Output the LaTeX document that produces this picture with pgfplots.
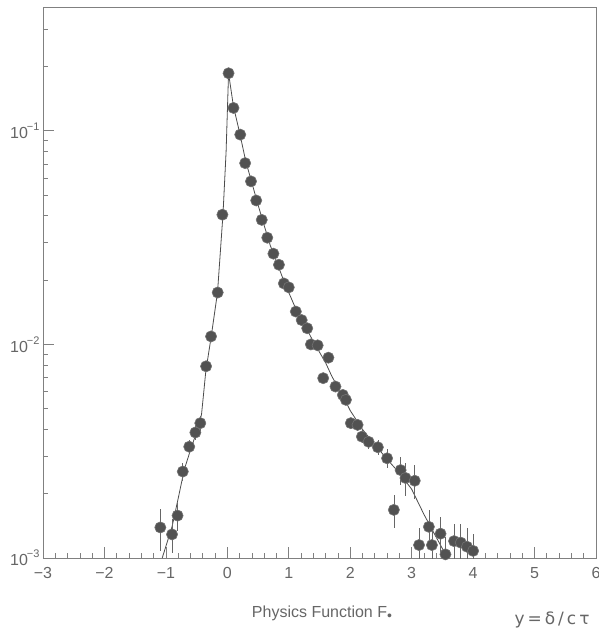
\documentclass[border=0pt]{standalone}
\usepackage{pgfplots}
\pgfplotsset{compat=1.18}
\usepackage{fontspec}
\setmainfont{Liberation Sans}
\newfontfamily\dejavu{DejaVu Sans}
\definecolor{axgray}{gray}{0.5}
\definecolor{txtgray}{gray}{0.4}
\definecolor{ptgray}{gray}{0.32}
\begin{document}
\begin{tikzpicture}
\begin{axis}[
  scale only axis, width=553pt, height=551pt,
  xmin=-3, xmax=6, ymode=log, ymin=1e-3, ymax=0.38,
  axis line style={axgray, line width=0.8pt},
  every tick/.style={axgray, line width=0.7pt},
  tick align=inside, tick pos=left,
  major tick length=11pt, minor tick length=5pt,
  xtick={-3,-2,-1,0,1,2,3,4,5,6},
  xticklabels={−3,−2,−1,0,1,2,3,4,5,6},
  minor x tick num=4,
  ytick={0.001,0.01,0.1},
  yticklabels={10\kern-1pt\raisebox{8pt}{\fontsize{11}{13}\selectfont −3},
               10\kern-1pt\raisebox{8pt}{\fontsize{11}{13}\selectfont −2},
               10\kern-1pt\raisebox{8pt}{\fontsize{11}{13}\selectfont −1}},
  minor ytick={0.002,0.003,0.004,0.005,0.006,0.007,0.008,0.009,
               0.02,0.03,0.04,0.05,0.06,0.07,0.08,0.09,0.2,0.3},
  ticklabel style={font=\fontsize{16}{19}\selectfont, text=txtgray},
  xticklabel style={yshift=-6pt},
]
\coordinate (o) at (rel axis cs:0,0);
% fitted curve
\addplot[black!70, line width=0.8pt, mark=none] coordinates {
(-1.06,0.00100) (-0.9,0.0014) (-0.8,0.0019) (-0.7,0.0026) (-0.6,0.0032)
(-0.5,0.0039) (-0.42,0.0047) (-0.35,0.0075) (-0.26,0.0110) (-0.16,0.0175)
(-0.07,0.041) (-0.02,0.08) (0.02,0.186)
(0.1,0.13) (0.2,0.098) (0.3,0.072) (0.4,0.057) (0.5,0.045) (0.6,0.036)
(0.7,0.029) (0.8,0.0245) (0.9,0.0205) (1.0,0.0175) (1.1,0.0150) (1.2,0.0131)
(1.3,0.0117) (1.4,0.0103) (1.5,0.0092) (1.6,0.0082) (1.7,0.0071) (1.8,0.0063)
(1.9,0.0056) (2.0,0.0049) (2.2,0.0040) (2.4,0.0034) (2.6,0.0029) (2.8,0.0025)
(3.0,0.0021) (3.2,0.0016) (3.4,0.00125) (3.6,0.00098)
};
% data points
\addplot[only marks, mark=*, mark size=5.6pt,
  mark options={fill=ptgray, draw=black!55, line width=0.6pt},
  error bars/.cd, y dir=both, y explicit relative,
  error bar style={black!60, line width=0.7pt}, error mark=none]
coordinates {
(-1.09,0.00139) +- (0,0.22)
(-0.90,0.00129) +- (0,0.18)
(-0.81,0.00158) +- (0,0.15)
(-0.725,0.00254) +- (0,0.10)
(-0.62,0.00332) +- (0,0.08)
(-0.52,0.00387) +- (0,0.08)
(-0.44,0.00428) +- (0,0.08)
(-0.346,0.0079) +- (0,0.05)
(-0.265,0.0109) +- (0,0.05)
(-0.157,0.0175) +- (0,0.04)
(-0.08,0.0405) +- (0,0.03)
(0.02,0.186) +- (0,0.02)
(0.10,0.128) +- (0,0.02)
(0.21,0.096) +- (0,0.02)
(0.29,0.0706) +- (0,0.02)
(0.385,0.058) +- (0,0.02)
(0.47,0.0472) +- (0,0.02)
(0.56,0.0383) +- (0,0.02)
(0.65,0.0316) +- (0,0.03)
(0.75,0.0266) +- (0,0.03)
(0.84,0.0236) +- (0,0.03)
(0.92,0.0193) +- (0,0.03)
(1.00,0.0185) +- (0,0.03)
(1.115,0.01425) +- (0,0.04)
(1.21,0.0130) +- (0,0.04)
(1.30,0.0119) +- (0,0.04)
(1.36,0.0100) +- (0,0.04)
(1.47,0.0099) +- (0,0.04)
(1.56,0.00695) +- (0,0.05)
(1.645,0.00867) +- (0,0.05)
(1.76,0.00635) +- (0,0.05)
(1.88,0.0058) +- (0,0.05)
(1.93,0.0055) +- (0,0.05)
(2.01,0.00428) +- (0,0.06)
(2.12,0.0042) +- (0,0.06)
(2.19,0.0037) +- (0,0.07)
(2.30,0.0035) +- (0,0.07)
(2.45,0.0033) +- (0,0.08)
(2.60,0.00293) +- (0,0.10)
(2.71,0.00168) +- (0,0.18)
(2.82,0.00258) +- (0,0.15)
(2.90,0.00237) +- (0,0.18)
(3.05,0.00230) +- (0,0.18)
(3.12,0.00115) +- (0,0.20)
(3.28,0.00140) +- (0,0.20)
(3.33,0.00115) +- (0,0.20)
(3.47,0.00130) +- (0,0.20)
(3.55,0.00104) +- (0,0.20)
(3.69,0.00120) +- (0,0.20)
(3.80,0.00118) +- (0,0.22)
(3.90,0.00113) +- (0,0.22)
(4.00,0.00108) +- (0,0.20)
};
\end{axis}
\node[text=txtgray, font=\fontsize{16}{19}\selectfont] at ([shift={(279pt,-55pt)}]o)
  {Physics Function F\raisebox{-3pt}{\fontsize{14}{16}\selectfont •}};
\node[text=txtgray, font=\dejavu\fontsize{17}{20}\selectfont] at ([shift={(509pt,-62pt)}]o)
  {y\kern3pt=\kern3ptδ\kern3pt/\kern3ptc\kern3ptτ};
\pgfresetboundingbox
\path ([shift={(-43pt,-73pt)}]o) rectangle ++(598pt,631pt);
\end{tikzpicture}
\end{document}
